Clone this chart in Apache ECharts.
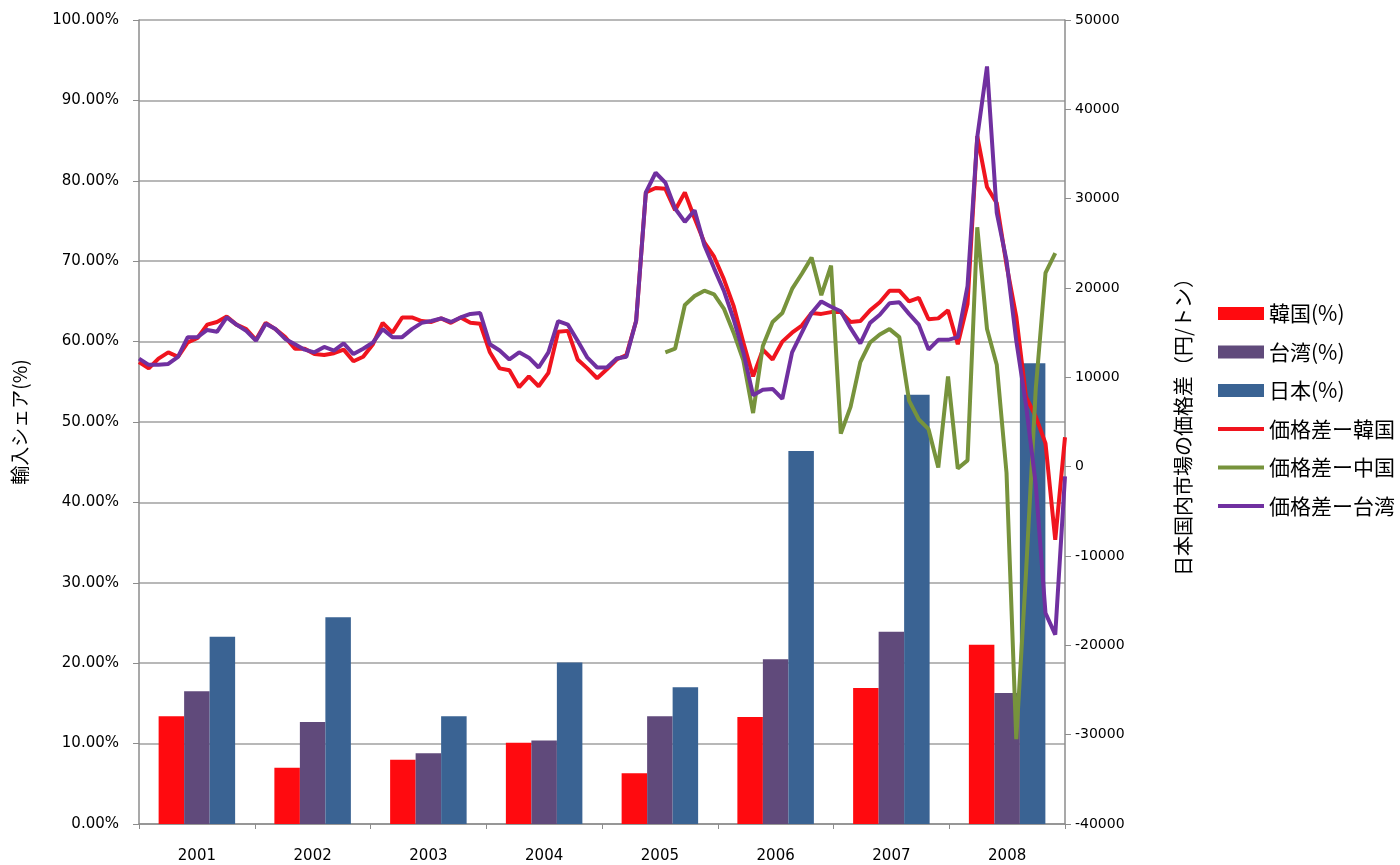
<!DOCTYPE html>
<html>
<head>
<meta charset="utf-8">
<script src="https://cdn.jsdelivr.net/npm/echarts@6/dist/echarts.min.js"></script>
<style>
html,body{margin:0;padding:0;background:#fff;}
#main{width:1400px;height:865px;}
</style>
</head>
<body>
<div id="main"></div>
<script>
// Categories
const years = ['2001','2002','2003','2004','2005','2006','2007','2008'];
const months = [];
for (const y of years) { for (let m = 1; m <= 12; m++) months.push(y + '-' + (m < 10 ? '0' + m : m)); }

// Import share (%) bars
const shareKorea  = [13.4, 7.0, 8.0, 10.1, 6.3, 13.3, 16.9, 22.3];
const shareTaiwan = [16.5, 12.7, 8.8, 10.4, 13.4, 20.5, 23.9, 16.3];
const shareJapan  = [23.3, 25.7, 13.4, 20.1, 17.0, 46.4, 53.4, 57.3];

// Price difference (yen/ton), monthly 2001-01 .. 2008-12
const diffKorea = [
  11700, 11000, 12100, 12800, 12300, 13900, 14400, 15900, 16200, 16800, 15900, 15400,
  14200, 16100, 15400, 14500, 13200, 13200, 12600, 12500, 12700, 13100, 11800, 12300,
  13700, 16100, 15000, 16700, 16700, 16300, 16200, 16600, 16100, 16700, 16100, 16000,
  12800, 11000, 10800, 8900, 10100, 9000, 10500, 15100, 15200, 12000, 11000, 9900,
  10900, 12000, 12500, 16300, 30700, 31200, 31100, 28700, 30700, 27800, 25100, 23500,
  21000, 18000, 13900, 10100, 13100, 12000, 14000, 15000, 15800, 17200, 17100, 17300,
  17300, 16200, 16300, 17500, 18400, 19700, 19700, 18500, 18900, 16500, 16600, 17500,
  13700, 18200, 37000, 31300, 29500, 22600, 16800, 7800, 5600, 2600, -8200, 3300
];
const diffChina = [
  null, null, null, null, null, null, null, null, null, null, null, null,
  null, null, null, null, null, null, null, null, null, null, null, null,
  null, null, null, null, null, null, null, null, null, null, null, null,
  null, null, null, null, null, null, null, null, null, null, null, null,
  null, null, null, null, null, null, 12800, 13200, 18100, 19100, 19700, 19300,
  17700, 15000, 11900, 6000, 13500, 16200, 17200, 19900, 21600, 23400, 19200, 22500,
  3700, 6700, 11700, 13900, 14800, 15400, 14500, 7400, 5300, 4200, -100, 10100,
  -200, 700, 26800, 15400, 11400, -700, -30500, -11900, 8700, 21700, 23900, null
];
const diffTaiwan = [
  12100, 11400, 11400, 11500, 12300, 14500, 14500, 15300, 15100, 16700, 15900, 15200,
  14100, 16000, 15400, 14300, 13700, 13100, 12800, 13400, 13000, 13800, 12600, 13200,
  13900, 15400, 14500, 14500, 15400, 16100, 16300, 16600, 16200, 16700, 17100, 17200,
  13700, 13000, 12000, 12800, 12200, 11100, 12800, 16300, 15900, 14100, 12200, 11100,
  11100, 12100, 12300, 16300, 30700, 32900, 31800, 28900, 27400, 28700, 24800, 22200,
  19700, 16500, 12800, 8000, 8600, 8700, 7600, 12800, 15000, 17200, 18500, 17900,
  17400, 15500, 13800, 16100, 17000, 18300, 18400, 17100, 15900, 13100, 14200, 14200,
  14500, 20200, 36900, 44800, 28400, 23100, 14100, 6900, -2000, -16400, -18800, -1100
];

const cRedBar = '#FF0A0F', cPurpleBar = '#604A7B', cBlueBar = '#3A6393';
const cRedLine = '#F0141E', cGreenLine = '#77933C', cPurpleLine = '#7030A0';
const lineIcon = 'path://M0,0L46,0L46,4L0,4Z';

const chart = echarts.init(document.getElementById('main'));
chart.setOption({
  animation: false,
  backgroundColor: '#fff',
  grid: { left: 139, right: 335, top: 20, bottom: 41, containLabel: false },
  legend: {
    orient: 'vertical', left: 1213, top: 298,
    itemWidth: 46, itemHeight: 13, itemGap: 17.5,
    textStyle: { fontSize: 21, color: '#000', fontFamily: 'Noto Sans CJK JP' },
    data: [
      { name: '韓国(%)', icon: 'rect' },
      { name: '台湾(%)', icon: 'rect' },
      { name: '日本(%)', icon: 'rect' },
      { name: '価格差ー韓国', icon: lineIcon },
      { name: '価格差ー中国', icon: lineIcon },
      { name: '価格差ー台湾', icon: lineIcon }
    ]
  },
  xAxis: [
    {
      type: 'category', data: years, position: 'bottom',
      axisLine: { lineStyle: { color: '#8C8C8C', width: 1.5 } },
      axisTick: { show: true, length: 5, lineStyle: { color: '#8C8C8C' } },
      axisLabel: { margin: 25, fontSize: 15, color: '#000', fontFamily: 'DejaVu Sans' }
    },
    {
      type: 'category', data: months, boundaryGap: false, show: false, position: 'bottom'
    }
  ],
  yAxis: [
    {
      type: 'value', min: 0, max: 100, interval: 10, position: 'left',
      name: '輸入シェア(%)', nameLocation: 'middle', nameRotate: 90, nameGap: 110,
      nameTextStyle: { fontSize: 19, color: '#000', fontFamily: 'Noto Sans CJK JP' },
      axisLine: { show: true, lineStyle: { color: '#8C8C8C', width: 1.5 } },
      axisTick: { show: true, length: 6, lineStyle: { color: '#8C8C8C' } },
      axisLabel: { margin: 20, fontSize: 15, color: '#000', fontFamily: 'DejaVu Sans',
        formatter: v => v.toFixed(2) + '%' },
      splitLine: { show: true, lineStyle: { color: '#A0A0A0', width: 1.5 } }
    },
    {
      type: 'value', min: -40000, max: 50000, interval: 10000, position: 'right',
      name: '日本国内市場の価格差（円/トン）', nameLocation: 'middle', nameRotate: 90, nameGap: 108,
      nameTextStyle: { fontSize: 20, color: '#000', fontFamily: 'Noto Sans CJK JP' },
      axisLine: { show: true, lineStyle: { color: '#8C8C8C', width: 1.5 } },
      axisTick: { show: true, length: 6, lineStyle: { color: '#8C8C8C' } },
      axisLabel: { margin: 10, fontSize: 14, color: '#000', fontFamily: 'DejaVu Sans',
        formatter: v => String(v) },
      splitLine: { show: false }
    }
  ],
  series: [
    { name: '韓国(%)', type: 'bar', data: shareKorea, barWidth: 25.5, barGap: '0%',
      itemStyle: { color: cRedBar } },
    { name: '台湾(%)', type: 'bar', data: shareTaiwan, barWidth: 25.5, barGap: '0%',
      itemStyle: { color: cPurpleBar } },
    { name: '日本(%)', type: 'bar', data: shareJapan, barWidth: 25.5, barGap: '0%',
      itemStyle: { color: cBlueBar } },
    { name: '価格差ー韓国', type: 'line', xAxisIndex: 1, yAxisIndex: 1, data: diffKorea,
      symbol: 'none', connectNulls: false, z: 3,
      lineStyle: { color: cRedLine, width: 4 }, itemStyle: { color: cRedLine } },
    { name: '価格差ー中国', type: 'line', xAxisIndex: 1, yAxisIndex: 1, data: diffChina,
      symbol: 'none', connectNulls: false, z: 3,
      lineStyle: { color: cGreenLine, width: 4 }, itemStyle: { color: cGreenLine } },
    { name: '価格差ー台湾', type: 'line', xAxisIndex: 1, yAxisIndex: 1, data: diffTaiwan,
      symbol: 'none', connectNulls: false, z: 3,
      lineStyle: { color: cPurpleLine, width: 4 }, itemStyle: { color: cPurpleLine } }
  ]
});
</script>
</body>
</html>
